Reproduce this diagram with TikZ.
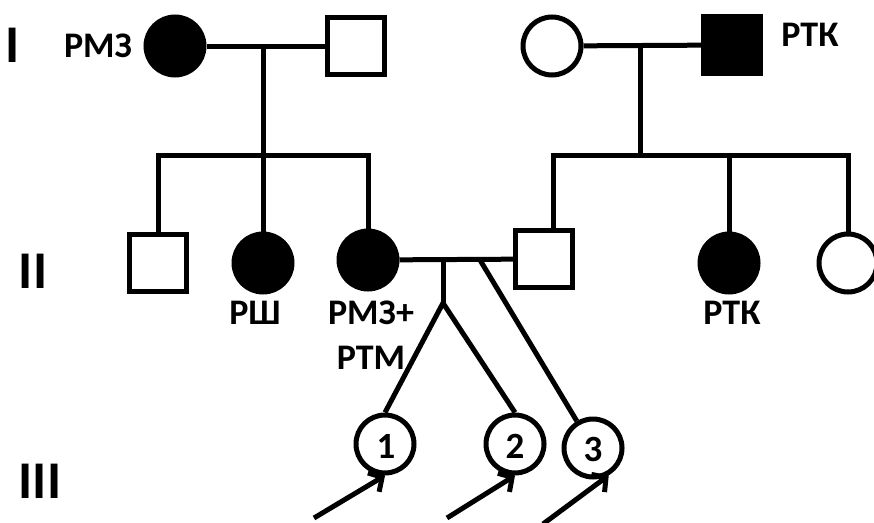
\documentclass[tikz,border=0pt]{standalone}
\usepackage{fontspec}
\setmainfont{Carlito}
\usetikzlibrary{arrows.meta}
\begin{document}
\begin{tikzpicture}[x=1pt,y=-1pt,line width=5pt,line join=miter,
  fem/.style={circle,draw,fill=white,minimum size=58pt,inner sep=0pt},
  mal/.style={rectangle,draw,fill=white,minimum size=57pt,inner sep=0pt},
  aff/.style={fill=black},
  lab/.style={font=\fontsize{36}{36}\selectfont\bfseries,inner sep=0pt},
  gen/.style={font=\fontsize{53}{53}\selectfont\bfseries,inner sep=0pt},
  num/.style={font=\fontsize{37}{37}\selectfont\bfseries,inner sep=0pt},
  proband/.style={-{Straight Barb[length=10pt,width=22pt]}}
]
\useasboundingbox (0,0) rectangle (874,522);
% generation labels
\node[gen] (gI) at (13,45) {I};
\node[gen] (gII) at (33,271) {II};
\node[gen] (gIII) at (40,481) {III};
% generation I
\node[fem,aff] (i1) at (175,46) {};
\node[mal] (i2) at (356,46) {};
\node[fem] (i3) at (552,46) {};
\node[mal,aff] (i4) at (732,45) {};
\node[lab] (l1) at (98,46) {РМЗ};
\node[lab] (l2) at (810,35) {РТК};
% generation II
\node[mal] (ii1) at (158,263) {};
\node[fem,aff] (ii2) at (263,263) {};
\node[fem,aff] (ii3) at (368,260) {};
\node[mal] (ii4) at (544,259) {};
\node[fem,aff] (ii5) at (729,263) {};
\node[fem] (ii6) at (848,263) {};
\node[lab] (l3) at (255,313) {РШ};
\node[lab] (l4) at (371,313) {РМЗ+};
\node[lab] (l5) at (371,358) {РТМ};
\node[lab] (l6) at (732,313) {РТК};
% generation III
\node[fem] (c1) at (385,444) {};
\node[fem] (c2) at (515,444) {};
\node[fem] (c3) at (593,448) {};
\node[num] (n1) at (386,446) {1};
\node[num] (n2) at (515,446) {2};
\node[num] (n3) at (593,449) {3};
% coordinates
\coordinate (m1) at (263,46);
\coordinate (sibL) at (263,155);
\coordinate (m2) at (640,45);
\coordinate (sibR) at (640,155);
\coordinate (m3) at (443,260);
\coordinate (tw) at (443,303);
\coordinate (m4) at (480,260);
\coordinate (a1) at (314,518);
\coordinate (a2) at (447,518);
\coordinate (a3) at (543,524);
% marriages
\draw (i1) -- (i2);
\draw (i3) -- (i4);
\draw (ii3) -- (ii4);
% sibships
\draw (m1) -- (sibL) -- (ii2.north);
\draw (ii1.north) |- (sibL) -| (ii3.north);
\draw (m2) -- (sibR);
\draw (ii5.north |- sibR) -- (ii5.north);
\draw ([xshift=9pt]ii4.north) |- (sibR) -| (ii6.north);
% children
\draw (m3) -- (tw);
\draw (c1.north) -- (tw) -- (c2.north);
\draw (m4) -- (c3);
% probands
\draw[proband] (a1) -- (c1.south);
\draw[proband] (a2) -- (c2.south);
\draw[proband] (a3) -- (c3.300);
\end{tikzpicture}
\end{document}
